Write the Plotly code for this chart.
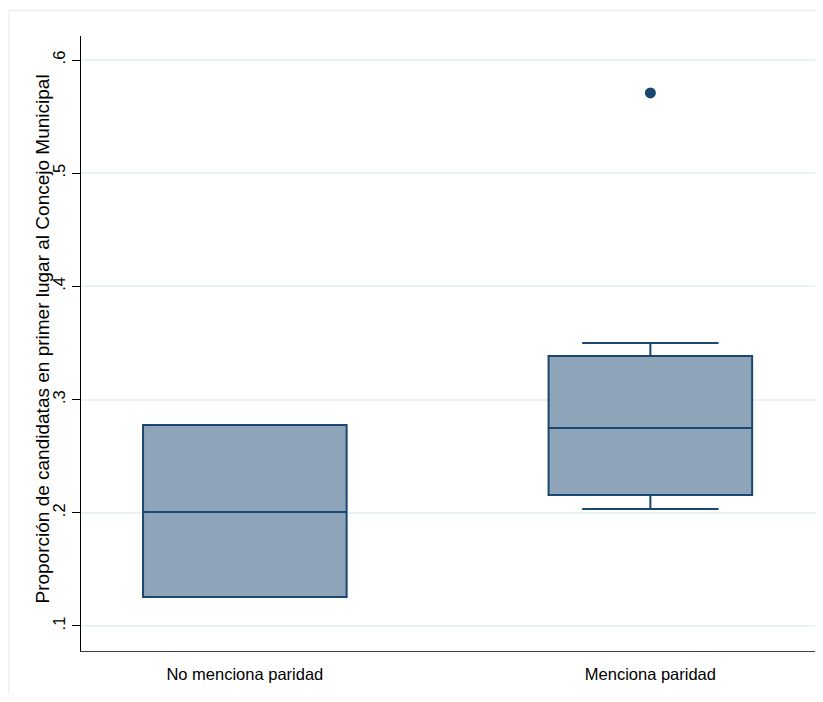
import plotly.graph_objects as go

categories = ["No menciona paridad", "Menciona paridad"]
q1 = [0.1256, 0.2157]
median = [0.2007, 0.2749]
q3 = [0.2776, 0.3385]
lower_whisker = [0.1256, 0.2034]
upper_whisker = [0.2776, 0.3500]
outlier_cat = ["Menciona paridad"]
outlier_val = [0.5709]
tick_vals = [0.1, 0.2, 0.3, 0.4, 0.5, 0.6]
tick_text = [".1", ".2", ".3", ".4", ".5", ".6"]
y_title = "Proporción de candidatas en primer lugar al Concejo Municipal"

navy = "#1a476f"
fill = "#8ea4b8"
grid = "#eaf2f3"

fig = go.Figure()
fig.add_trace(go.Box(
    x=categories, q1=q1, median=median, q3=q3,
    lowerfence=lower_whisker, upperfence=upper_whisker,
    fillcolor=fill, line=dict(color=navy, width=2),
    width=0.502, whiskerwidth=0.67, boxpoints=False,
    showlegend=False, hoverinfo="skip",
))
fig.add_trace(go.Scatter(
    x=outlier_cat, y=outlier_val, mode="markers",
    marker=dict(color=navy, size=11), showlegend=False,
))

font = dict(family="Liberation Sans, Arial, sans-serif", size=16.5, color="#000000")

fig.update_layout(
    width=807, height=686,
    margin=dict(l=73, r=0, t=28, b=43, autoexpand=False),
    paper_bgcolor="white", plot_bgcolor="white",
    font=font,
    xaxis=dict(
        type="category", range=[-0.404, 1.406], automargin=False,
        showline=True, linecolor="#404040", linewidth=1.2,
        showgrid=False, ticks="", zeroline=False,
        ticklabelstandoff=8,
        tickfont=font,
    ),
    yaxis=dict(
        range=[0.0779, 0.6212], automargin=False,
        tickvals=tick_vals, ticktext=tick_text, tickangle=-90,
        showline=True, linecolor="#000000", linewidth=1.2,
        ticks="outside", ticklen=8, tickcolor="#000000", tickwidth=1,
        showgrid=True, gridcolor=grid, gridwidth=2, zeroline=False,
        tickfont=font,
    ),
    annotations=[dict(text=y_title, xref="paper", yref="paper",
                      x=-0.0531, y=0.5065, textangle=-90, showarrow=False,
                      xanchor="center", yanchor="middle",
                      font=dict(family="Liberation Sans, Arial, sans-serif", size=19, color="#000000"))],
    shapes=[dict(type="rect", xref="paper", yref="paper",
                 x0=-0.0988, x1=1.05, y0=-0.1, y1=1.0415,
                 line=dict(color=grid, width=2), layer="below")],
)

fig.write_html("out.html")
